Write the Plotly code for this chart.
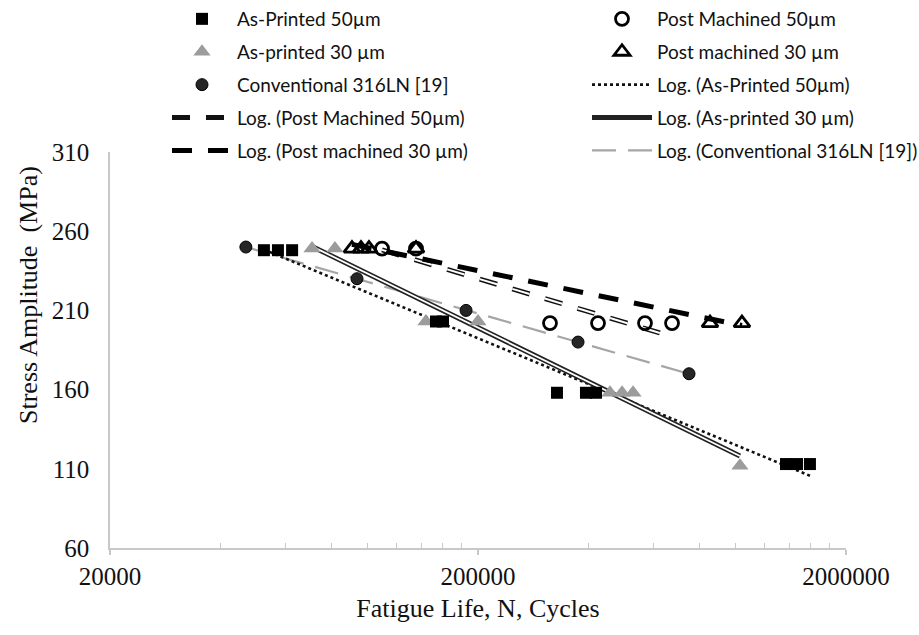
import numpy as np
import plotly.graph_objects as go

# ---------------- data ----------------
ap50_n = [52400, 57200, 62500, 153800, 160700, 327800, 393000, 418600, 1374000, 1472000, 1596000]
ap50_s = [248, 248, 248, 203, 203, 158, 158, 158, 113, 113, 113]

pm50_n = [109700, 135700, 313800, 423800, 568600, 673400]
pm50_s = [249, 249, 202, 202, 202, 202]

ap30_n = [70800, 81700, 144400, 200000, 456800, 492600, 527600, 1030000]
ap30_s = [249, 249, 203, 203, 158, 158, 158, 112]

pm30_n = [90900, 96200, 101100, 135700, 854000, 1043000]
pm30_s = [249, 249, 249, 249, 202, 202]

conv_n = [46800, 93800, 185600, 374000, 749000]
conv_s = [250, 230, 210, 190, 170]

x_ticks = [20000, 200000, 2000000]
x_minor = [40000, 60000, 80000, 100000, 120000, 140000, 160000, 180000,
           400000, 600000, 800000, 1000000, 1200000, 1400000, 1600000, 1800000]
y_ticks = [60, 110, 160, 210, 260, 310]


def log_trend(n, s):
    """Excel-style logarithmic trendline y = a ln(x) + b over the data range."""
    n = np.asarray(n, float)
    a, b = np.polyfit(np.log(n), np.asarray(s, float), 1)
    xs = np.array([n.min(), n.max()])
    return xs, a * np.log(xs) + b


SERIF = "Liberation Serif, Times New Roman, DejaVu Serif, serif"
LEG_FONT = dict(family="Lato", size=19, color="#111111")
TICK_FONT = dict(family=SERIF, size=25, color="#111111")
TITLE_FONT = dict(family=SERIF, size=26, color="#111111")

fig = go.Figure()

# ---------------- trendlines ----------------
x, y = log_trend(conv_n, conv_s)
fig.add_trace(go.Scatter(x=x, y=y, mode="lines", name="Log. (Conventional 316LN [19])",
                         line=dict(color="#a6a6a6", width=2.2, dash="24px,12px"),
                         legend="legend2", legendgroup="g10", legendrank=10))

x, y = log_trend(pm50_n, pm50_s)
fig.add_trace(go.Scatter(x=x, y=y, mode="lines", name="Log. (Post Machined 50µm)",
                         line=dict(color="#111111", width=5, dash="18px,16px"),
                         legend="legend", legendgroup="g7", legendrank=7))
fig.add_trace(go.Scatter(x=x, y=y, mode="lines", showlegend=False, hoverinfo="skip",
                         line=dict(color="white", width=2, dash="18px,16px"),
                         legendgroup="g7"))

x, y = log_trend(pm30_n, pm30_s)
fig.add_trace(go.Scatter(x=x, y=y, mode="lines", name="Log. (Post machined 30 µm)",
                         line=dict(color="#000000", width=5, dash="20px,16px"),
                         legend="legend", legendgroup="g9", legendrank=9))

x, y = log_trend(ap50_n, ap50_s)
fig.add_trace(go.Scatter(x=x, y=y, mode="lines", name="Log. (As-Printed 50µm)",
                         line=dict(color="#111111", width=2.6, dash="dot"),
                         legend="legend2", legendgroup="g6", legendrank=6))

x, y = log_trend(ap30_n, ap30_s)
fig.add_trace(go.Scatter(x=x, y=y, mode="lines", name="Log. (As-printed 30 µm)",
                         line=dict(color="#222222", width=5),
                         legend="legend2", legendgroup="g8", legendrank=8))
fig.add_trace(go.Scatter(x=x, y=y, mode="lines", showlegend=False, hoverinfo="skip",
                         line=dict(color="white", width=1.8),
                         legendgroup="g8"))

# ---------------- markers ----------------
fig.add_trace(go.Scatter(x=ap30_n, y=ap30_s, mode="markers", name="As-printed 30 µm",
                         marker=dict(symbol="triangle-up", size=15, color="#9c9c9c"),
                         legend="legend", legendgroup="g2", legendrank=2))
fig.add_trace(go.Scatter(x=conv_n, y=conv_s, mode="markers", name="Conventional 316LN [19]",
                         marker=dict(symbol="circle", size=12, color="#262626",
                                     line=dict(color="#000000", width=1)),
                         legend="legend", legendgroup="g3", legendrank=3))
fig.add_trace(go.Scatter(x=ap50_n, y=ap50_s, mode="markers", name="As-Printed 50µm",
                         marker=dict(symbol="square", size=12, color="#000000"),
                         legend="legend", legendgroup="g1", legendrank=1))
fig.add_trace(go.Scatter(x=pm50_n, y=pm50_s, mode="markers", name="Post Machined 50µm",
                         marker=dict(symbol="circle-open", size=13, color="#000000",
                                     line=dict(width=2.8)),
                         legend="legend2", legendgroup="g4", legendrank=4))
fig.add_trace(go.Scatter(x=pm30_n, y=pm30_s, mode="markers", name="Post machined 30 µm",
                         marker=dict(symbol="triangle-up-open", size=14, color="#000000",
                                     line=dict(width=2.8)),
                         legend="legend2", legendgroup="g5", legendrank=5))

leg_common = dict(font=LEG_FONT, bgcolor="rgba(0,0,0,0)", borderwidth=0,
                  orientation="v", xref="container", yref="container",
                  xanchor="left", yanchor="top", tracegroupgap=5.2,
                  itemwidth=60, traceorder="grouped")

fig.update_layout(
    width=919, height=635,
    margin=dict(l=110, r=73, t=152, b=87, autoexpand=False),
    paper_bgcolor="white", plot_bgcolor="white",
    legend=dict(x=167 / 919, y=1 - 0 / 635, **leg_common),
    legend2=dict(x=587 / 919, y=1 - 0 / 635, **leg_common),
    xaxis=dict(type="log", range=[np.log10(20000), np.log10(2000000)],
               tickmode="array", tickvals=x_ticks, ticktext=[str(v) for v in x_ticks],
               tickangle=0,
               showgrid=False, zeroline=False,
               showline=True, linecolor="#c8c8c8", linewidth=1.5,
               ticks="outside", ticklen=5, tickcolor="#c8c8c8", tickwidth=1.5,
               minor=dict(tickmode="array", tickvals=x_minor, ticks="inside",
                          ticklen=5, tickcolor="#c8c8c8", tickwidth=1.2, showgrid=False),
               tickfont=TICK_FONT,
               title=dict(text="Fatigue Life, N, Cycles", standoff=10, font=TITLE_FONT)),
    yaxis=dict(range=[60, 310], tickmode="array", tickvals=y_ticks,
               showgrid=False, zeroline=False,
               showline=True, linecolor="#c8c8c8", linewidth=1.5,
               ticks="", ticklabelstandoff=14,
               tickfont=TICK_FONT),
    annotations=[dict(text="Stress Amplitude  (MPa)", textangle=-90,
                      xref="paper", yref="paper", x=-82 / 736, y=(548 - 295) / 396,
                      xanchor="center", yanchor="middle", showarrow=False,
                      font=TITLE_FONT)],
)

fig.write_html("out.html")
